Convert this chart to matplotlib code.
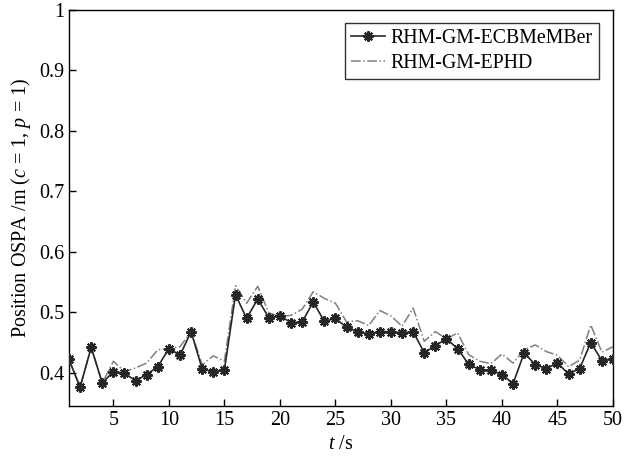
import numpy as np
import matplotlib
matplotlib.use('Agg')
import matplotlib.pyplot as plt

plt.rcParams['font.family'] = ['Liberation Serif', 'DejaVu Serif']
plt.rcParams['mathtext.fontset'] = 'custom'
plt.rcParams['mathtext.it'] = 'Liberation Serif:italic'
plt.rcParams['mathtext.rm'] = 'Liberation Serif'

# time steps
t = np.arange(1, 51)

# RHM-GM-ECBMeMBer
ecbmember = [0.422, 0.376, 0.442, 0.383, 0.402, 0.399, 0.387, 0.397, 0.410, 0.440,
             0.429, 0.468, 0.406, 0.402, 0.405, 0.529, 0.490, 0.522, 0.491, 0.494,
             0.483, 0.484, 0.517, 0.485, 0.490, 0.475, 0.468, 0.464, 0.468, 0.468,
             0.466, 0.468, 0.433, 0.445, 0.456, 0.440, 0.414, 0.405, 0.404, 0.397,
             0.382, 0.433, 0.413, 0.407, 0.416, 0.398, 0.407, 0.450, 0.420, 0.423]

# RHM-GM-EPHD
ephd = [0.422, 0.376, 0.442, 0.383, 0.419, 0.402, 0.408, 0.416, 0.438, 0.440,
        0.443, 0.468, 0.413, 0.428, 0.419, 0.544, 0.515, 0.543, 0.499, 0.493,
        0.495, 0.505, 0.534, 0.523, 0.515, 0.484, 0.486, 0.478, 0.503, 0.494,
        0.477, 0.507, 0.452, 0.468, 0.456, 0.466, 0.430, 0.419, 0.415, 0.431,
        0.416, 0.438, 0.446, 0.435, 0.429, 0.410, 0.421, 0.479, 0.434, 0.443]

fig = plt.figure(figsize=(6.3, 4.57), dpi=100)
ax = fig.add_axes([0.1095, 0.1116, 0.8635, 0.8665])

ax.plot(t, ecbmember, '-', color='#262626', lw=1.2, marker=(8, 2, 0), ms=7.5, mew=1.5,
        mfc='#262626', mec='#262626', label='RHM-GM-ECBMeMBer', zorder=3)
ax.plot(t, ephd, '-.', color='#808080', lw=1.1, label='RHM-GM-EPHD', zorder=2)

ax.set_xlim(1, 50)
ax.set_ylim(0.345, 1)
ax.set_xticks(range(5, 51, 5))
ax.set_yticks([0.4, 0.5, 0.6, 0.7, 0.8, 0.9, 1.0])
ax.set_yticklabels(['0.4', '0.5', '0.6', '0.7', '0.8', '0.9', '1'])
ax.tick_params(direction='in', labelsize=14.5, length=5, width=1)
for s in ax.spines.values():
    s.set_linewidth(1.0)

ax.set_xlabel('$t$ /s', fontsize=14.5)
ax.set_ylabel('Position OSPA /m ($c$ = 1, $p$ = 1)', fontsize=14.5)

leg = ax.legend(loc='upper right', fontsize=14.3, frameon=True, fancybox=False,
                edgecolor='black', handlelength=1.7, handletextpad=0.3,
                borderpad=0.3, labelspacing=0.3, borderaxespad=0.0,
                bbox_to_anchor=(0.974, 0.967))
leg.get_frame().set_linewidth(1.0)

fig.savefig('out.png', dpi=100)
